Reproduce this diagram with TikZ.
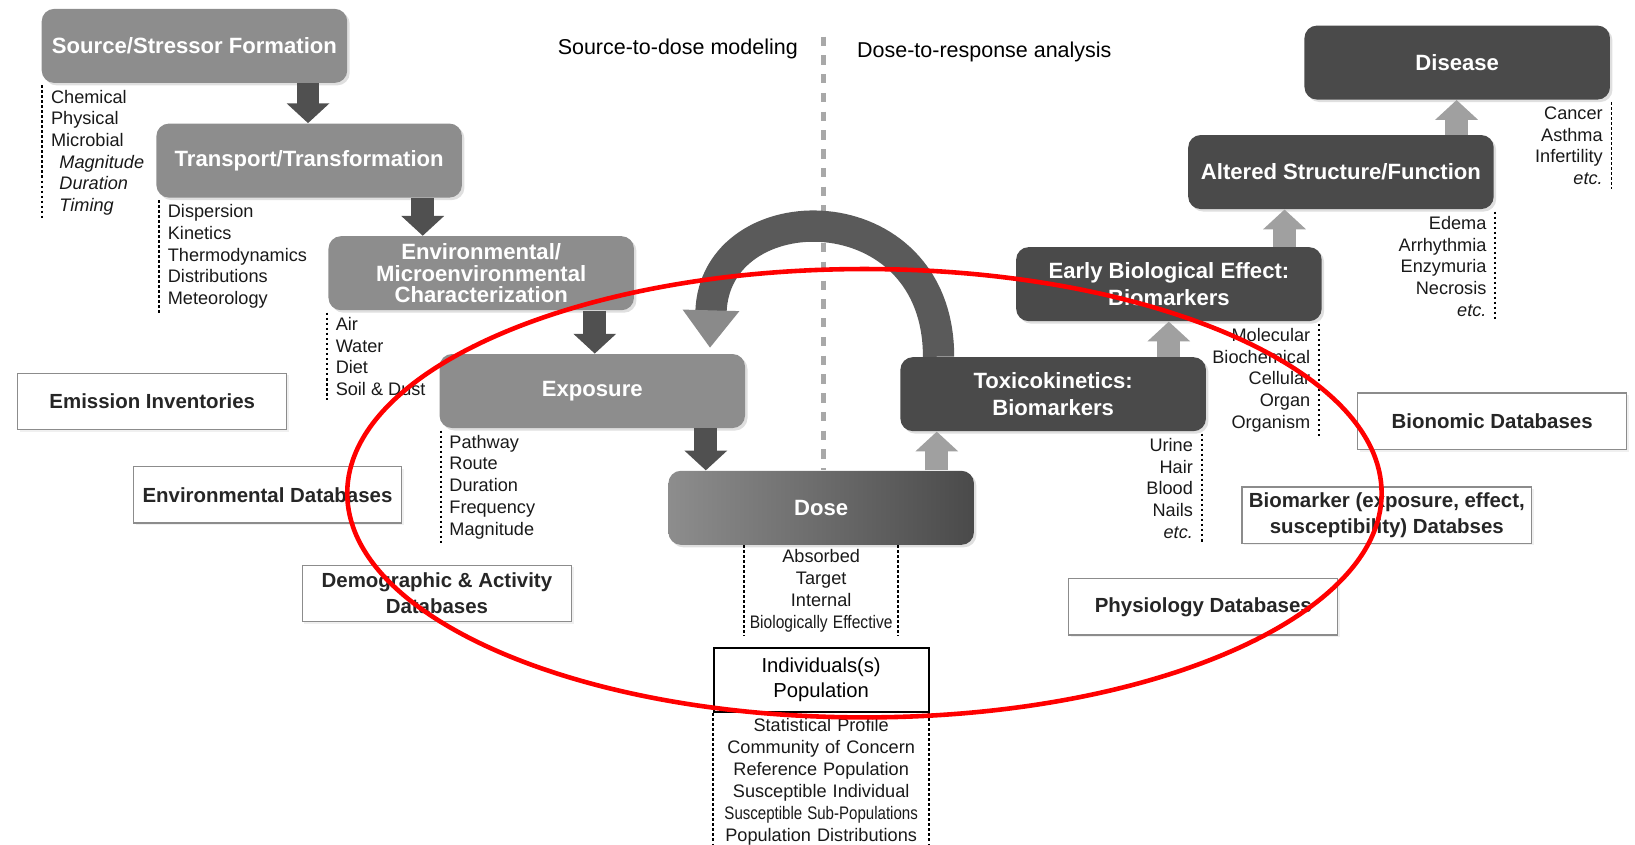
\documentclass[tikz,border=0pt]{standalone}
\usepackage{fontspec}
\setmainfont{Liberation Sans}
\usepackage{graphicx}
\usepackage{tikz}
\usetikzlibrary{arrows.meta}
\usetikzlibrary{shadows}
\usetikzlibrary{positioning}

\definecolor{boxlight}{HTML}{8D8D8D}
\definecolor{boxdark}{HTML}{4A4A4A}
\definecolor{arrdark}{HTML}{505050}
\definecolor{arrlight}{HTML}{A0A0A0}
\definecolor{arcgray}{HTML}{5A5A5A}
\definecolor{headgray}{HTML}{8A8A8A}
\definecolor{divgray}{HTML}{A8A8A8}

\begin{document}
\begin{tikzpicture}[x=0.5pt, y=-0.5pt]
    \tikzset{stage/.style={
      rounded corners=6pt, minimum width=146.5pt, minimum height=35.5pt,
      inner sep=0pt, align=center, text=white,
      font=\fontsize{10.6}{12.8}\selectfont\bfseries,
      drop shadow={opacity=0.25, shadow xshift=1.2pt, shadow yshift=-1.2pt}}}
    \tikzset{srcbox/.style={stage, fill=boxlight}}
    \tikzset{respbox/.style={stage, fill=boxdark}}
    \tikzset{dbbox/.style={
      draw=black!45, line width=0.6pt, fill=white, align=center,
      minimum height=27pt, inner sep=2pt, text=black!85,
      font=\fontsize{9.8}{12.3}\selectfont\bfseries,
      drop shadow={opacity=0.12, shadow xshift=1pt, shadow yshift=-1pt}}}
    \tikzset{itemlist/.style={
      font=\fontsize{8.7}{10.4}\selectfont, text=black!90,
      inner xsep=4pt, inner ysep=2pt}}
    \tikzset{dotline/.style={line width=0.9pt, dash pattern=on 1.3pt off 1.1pt}}
    \tikzset{downarrow/.style={
      draw=arrdark, line width=11pt, -{Triangle[width=20pt, length=9.5pt]}}}
    \tikzset{uparrow/.style={
      draw=arrlight, line width=11pt, -{Triangle[width=20pt, length=9.5pt]}}}
    \tikzset{feedback/.style={
      draw=arcgray, line width=15pt,
      -{Triangle[width=26pt, length=18pt, color=headgray]}}}

    \useasboundingbox (0, 0) rectangle (1568, 810);

    % Headings
    \path (650, 47) node [font=\fontsize{10.3}{12}\selectfont] (s2d)
          {Source-to-dose modeling};
    \path (944, 50) node [font=\fontsize{10.3}{12}\selectfont] (d2r)
          {Dose-to-response analysis};

    % Source-to-dose chain
    \path (186.5, 44) node [srcbox] (src) {Source/Stressor Formation};
    \path (296.5, 154) node [srcbox] (tt) {Transport/Transformation};
    \path (461.5, 262) node [srcbox, font=\fontsize{10.6}{10.3}\selectfont\bfseries]
          (env) {Environmental/\\Microenvironmental\\Characterization};
    \path (568, 375) node [srcbox] (exp) {Exposure};
    \path (787.5, 487) node [stage, left color=boxlight, right color=boxdark]
          (dose) {Dose};

    % Dose-to-response chain
    \path (1010, 378) node [respbox] (tox) {Toxicokinetics:\\Biomarkers};
    \path (1121, 272.5) node [respbox] (ebe) {Early Biological Effect:\\Biomarkers};
    \path (1286, 165) node [respbox] (asf) {Altered Structure/Function};
    \path (1397.5, 60) node [respbox] (dis) {Disease};

    % Divider
    \coordinate (divtop) at (790, 35);
    \draw [divgray, line width=2.2pt, dash pattern=on 4.5pt off 4.5pt]
          (divtop) -- (divtop |- dose.north);

    % Details, left side
    \path ([shift={(1, 2)}]src.south west)
          node [itemlist, anchor=north west, align=left] (srcl)
          {Chemical\\Physical\\Microbial\\\hspace*{4pt}\textit{Magnitude}\\
           \hspace*{4pt}\textit{Duration}\\\hspace*{4pt}\textit{Timing}};
    \path ([shift={(3, 2)}]tt.south west)
          node [itemlist, anchor=north west, align=left] (ttl)
          {Dispersion\\Kinetics\\Thermodynamics\\Distributions\\Meteorology};
    \path ([shift={(-1, 2)}]env.south west)
          node [itemlist, anchor=north west, align=left] (envl)
          {Air\\Water\\Diet\\Soil \& Dust};
    \path ([shift={(1.5, 2)}]exp.south west)
          node [itemlist, anchor=north west, align=left] (expl)
          {Pathway\\Route\\Duration\\Frequency\\Magnitude};
    \foreach \l in {srcl, ttl, envl, expl}
      \draw [dotline] (\l.north west) -- (\l.south west);

    % Details, right side
    \path ([shift={(-4.5, 2)}]tox.south east)
          node [itemlist, anchor=north east, align=right] (toxl)
          {Urine\\Hair\\Blood\\Nails\\\textit{etc.}};
    \path ([shift={(-3, 2)}]ebe.south east)
          node [itemlist, anchor=north east, align=right] (ebel)
          {Molecular\\Biochemical\\Cellular\\Organ\\Organism};
    \path ([shift={(1, 2)}]asf.south east)
          node [itemlist, anchor=north east, align=right] (asfl)
          {Edema\\Arrhythmia\\Enzymuria\\Necrosis\\\textit{etc.}};
    \path ([shift={(1, 2)}]dis.south east)
          node [itemlist, anchor=north east, align=right] (disl)
          {Cancer\\Asthma\\Infertility\\\textit{etc.}};
    \foreach \l in {toxl, ebel, asfl, disl}
      \draw [dotline] (\l.north east) -- (\l.south east);

    % Dose and population
    \path (dose.south)
          node [itemlist, anchor=north, align=center, text width=73.5pt,
                inner xsep=0pt] (dosel)
          {Absorbed\\Target\\Internal\\\scalebox{0.86}[1]{Biologically Effective}};
    \path node [draw, line width=0.9pt, minimum width=103pt, minimum height=31pt,
                align=center, font=\fontsize{9.7}{12}\selectfont,
                below=5pt of dosel] (pop) {Individuals(s)\\Population};
    \path (pop.south)
          node [itemlist, anchor=north, align=center, text width=103pt,
                inner xsep=0pt, font=\fontsize{8.7}{10.6}\selectfont] (popl)
          {Statistical Profile\\Community of Concern\\Reference Population\\
           Susceptible Individual\\\scalebox{0.83}[1]{Susceptible Sub-Populations}\\
           Population Distributions};
    \foreach \l in {dosel, popl} {
      \draw [dotline] (\l.north west) -- (\l.south west);
      \draw [dotline] (\l.north east) -- (\l.south east);
    }

    % Databases
    \foreach \n/\x/\y/\w/\t in {
        emi/146/385/129/{Emission Inventories},
        envdb/256.5/474.5/128.5/{Environmental Databases},
        demo/419/569/129/{Demographic \& Activity\\Databases},
        bion/1431/404/129/{Bionomic Databases},
        biom/1330/494/139/{Biomarker (exposure, effect,\\susceptibility) Databses},
        phys/1154/582/129/{Physiology Databases}} {
      \path (\x, \y) node [dbbox, minimum width=\w pt] (\n) {\t};
    }

    % Edges
    \foreach \a/\b in {src/tt, tt/env, env/exp, exp/dose} {
      \path ([xshift=-19pt]\a.south east) coordinate (\a-out);
      \draw [downarrow] (\a-out) -- (\a-out |- \b.north);
    }
    \foreach \a/\b in {dose/tox, tox/ebe, ebe/asf, asf/dis} {
      \path ([xshift=-18pt]\a.north east) coordinate (\a-up);
      \draw [uparrow] (\a-up) -- (\a-up |- \b.south);
    }
    \draw [feedback] ([xshift=18.5pt]tox.north west)
          .. controls +(0, -160) and +(4, -150) ..
          ([xshift=-17pt, yshift=2.75pt]exp.north east);

    % Highlight
    \draw [red, line width=2.2pt] (829, 473)
          ellipse [x radius=248pt, y radius=107.5pt];
\end{tikzpicture}
\end{document}
